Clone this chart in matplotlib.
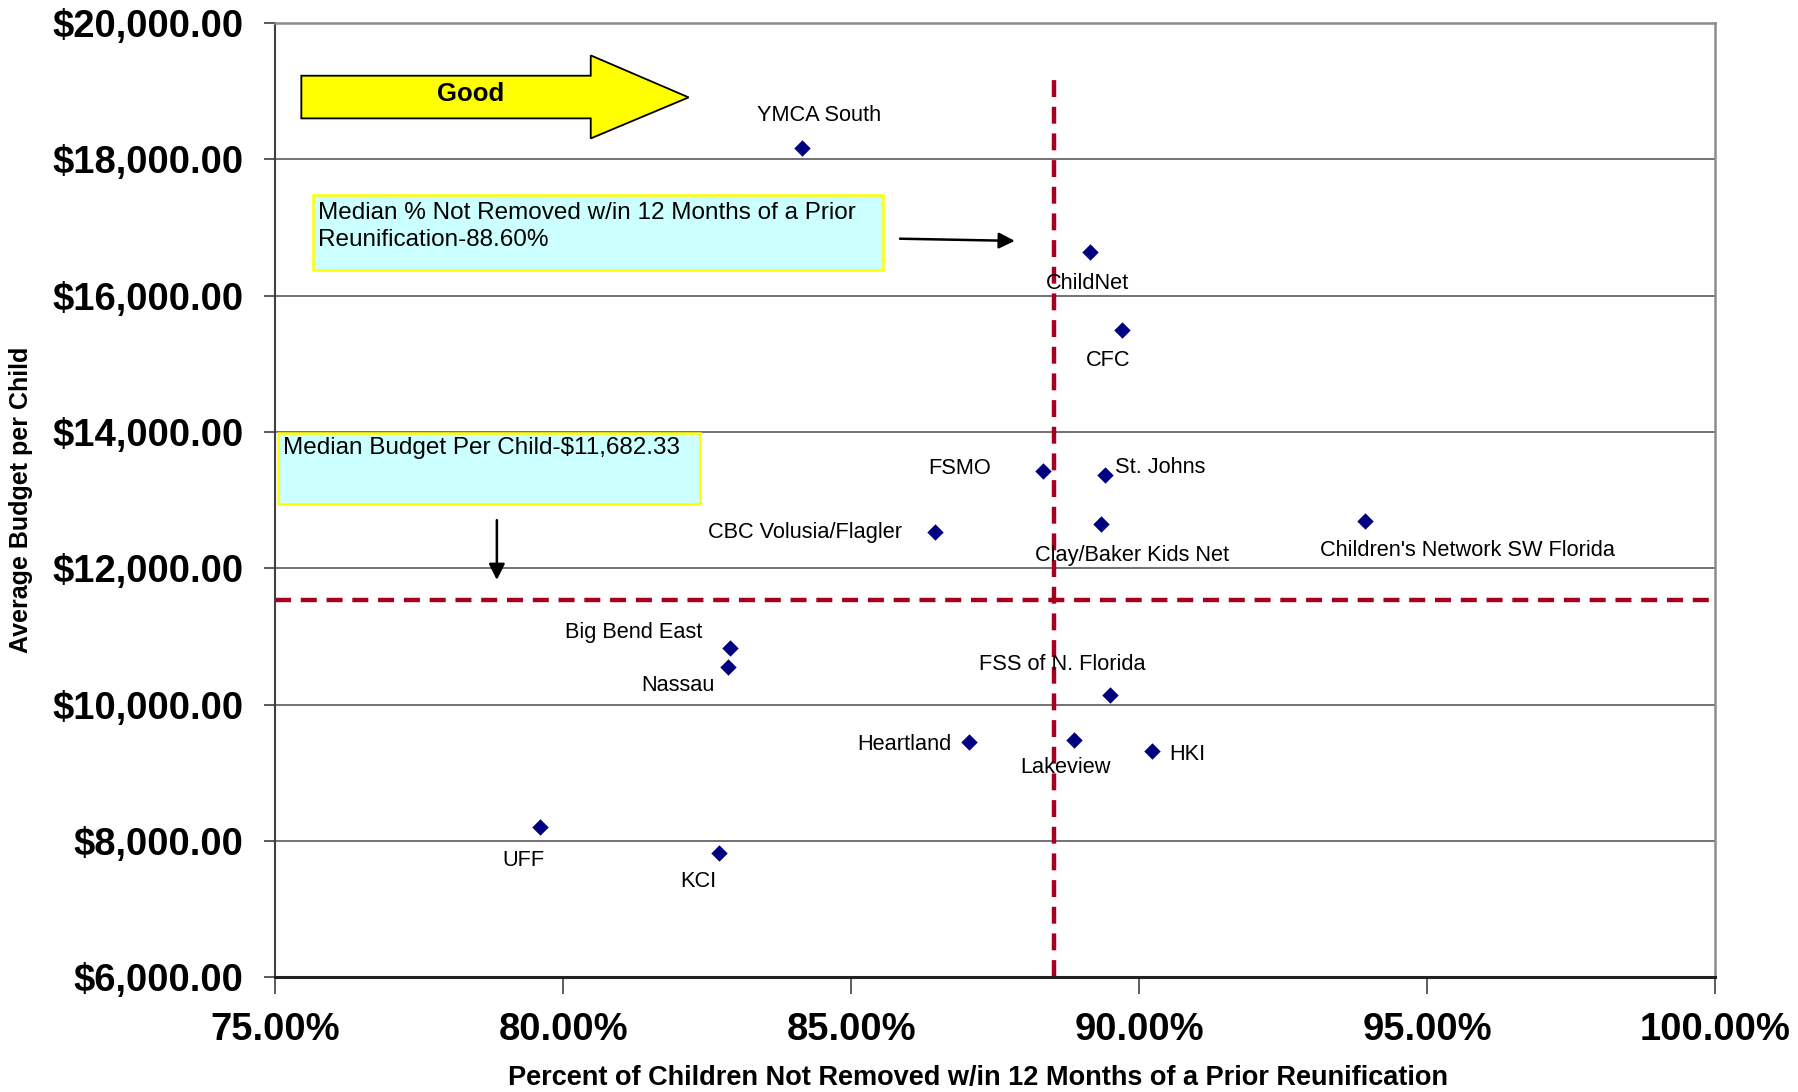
import matplotlib
matplotlib.use("Agg")
import matplotlib.pyplot as plt
from matplotlib.patches import Polygon, Rectangle
from matplotlib.ticker import FuncFormatter

plt.rcParams['font.family'] = ['Liberation Sans', 'DejaVu Sans']

# ---- data ----
agencies = ["YMCA South", "ChildNet", "CFC", "FSMO", "St. Johns", "CBC Volusia/Flagler",
            "Clay/Baker Kids Net", "Children's Network SW Florida", "Big Bend East", "Nassau",
            "FSS of N. Florida", "Heartland", "Lakeview", "HKI", "UFF", "KCI"]
pct_not_removed = [84.14, 89.14, 89.70, 88.33, 89.40, 86.45, 89.34, 93.92, 82.89, 82.85,
                   89.50, 87.05, 88.86, 90.22, 79.60, 82.71]
budget_per_child = [18167, 16636, 15492, 13423, 13373, 12532, 12650, 12700, 10833, 10547,
                    10143, 9454, 9488, 9319, 8209, 7822]
median_pct_line = 88.52
median_budget_line = 11540
median_pct_text = "Median % Not Removed w/in 12 Months of a Prior\nReunification-88.60%"
median_budget_text = "Median Budget Per Child-$11,682.33"
x_ticks = [75, 80, 85, 90, 95, 100]
y_ticks = [6000, 8000, 10000, 12000, 14000, 16000, 18000, 20000]

# label layout: (dx, dy in pixels, ha)
label_layout = {
    "YMCA South": (17, 32, 'center'),
    "ChildNet": (-2, -31, 'center'),
    "CFC": (-14, -30, 'center'),
    "FSMO": (-52, 3, 'right'),
    "St. Johns": (10, 7, 'left'),
    "CBC Volusia/Flagler": (-33, 0, 'right'),
    "Clay/Baker Kids Net": (31, -31, 'center'),
    "Children's Network SW Florida": (102, -30, 'center'),
    "Big Bend East": (-96, 15, 'center'),
    "Nassau": (-50, -18, 'center'),
    "FSS of N. Florida": (-48, 30, 'center'),
    "Heartland": (-18, -3, 'right'),
    "Lakeview": (-8, -28, 'center'),
    "HKI": (17, -3, 'left'),
    "UFF": (-17, -34, 'center'),
    "KCI": (-21, -28, 'center'),
}

fig = plt.figure(figsize=(17.99, 10.92), dpi=100)
ax = fig.add_axes([0.1531, 0.1049, 0.8003, 0.8741])

ax.set_xlim(75, 100)
ax.set_ylim(6000, 20000)
ax.set_xticks(x_ticks)
ax.set_yticks(y_ticks)
ax.xaxis.set_major_formatter(FuncFormatter(lambda v, p: f"{v:.2f}%"))
ax.yaxis.set_major_formatter(FuncFormatter(lambda v, p: f"${v:,.2f}"))

ax.grid(axis='y', color='#5a5a5a', linewidth=1.2)
ax.set_axisbelow(True)
for s in ['top', 'right']:
    ax.spines[s].set_color('#8c8c8c')
    ax.spines[s].set_linewidth(1.8)
ax.spines['left'].set_color('#404040')
ax.spines['left'].set_linewidth(1.5)
ax.spines['bottom'].set_color('#202020')
ax.spines['bottom'].set_linewidth(2.2)

ax.tick_params(axis='y', direction='out', length=8, width=1.2, color='#404040',
               labelsize=27.5, pad=15)
ax.tick_params(axis='x', direction='out', length=12, width=1.2, color='#404040',
               labelsize=27.5, pad=13)
for lbl in ax.get_xticklabels() + ax.get_yticklabels():
    lbl.set_fontweight('bold')

ax.set_xlabel("Percent of Children Not Removed w/in 12 Months of a Prior Reunification",
              fontsize=19.5, fontweight='bold', va='center')
ax.xaxis.set_label_coords(0.488, -0.1058)
ax.set_ylabel("Average Budget per Child", fontsize=18, fontweight='bold', va='center')
ax.yaxis.set_label_coords(-0.1769, 0.5006)

# median lines
ax.axvline(median_pct_line, ymin=0, ymax=0.946, color='#A50021', linewidth=3.2,
           dashes=(3.8, 2.2), zorder=2)
ax.axhline(median_budget_line, color='#A50021', linewidth=3.2, dashes=(3.6, 2.2), zorder=2)

# points
ax.scatter(pct_not_removed, budget_per_child, marker='D', s=70, color='#000080',
           zorder=4, linewidths=0)
for name, x, y in zip(agencies, pct_not_removed, budget_per_child):
    dx, dy, ha = label_layout[name]
    ax.annotate(name, (x, y), xytext=(dx, dy), textcoords='offset pixels',
                ha=ha, va='center', fontsize=15.7, color='black', zorder=5)

# "Good" block arrow
arrow_pts = [(0.018, 0.9447), (0.219, 0.9447), (0.219, 0.966), (0.287, 0.922),
             (0.219, 0.879), (0.219, 0.900), (0.018, 0.900)]
ax.add_patch(Polygon(arrow_pts, closed=True, transform=ax.transAxes,
                     facecolor='#FFFF00', edgecolor='black', linewidth=1.3, zorder=5))
ax.text(0.1355, 0.9255, "Good", transform=ax.transAxes, ha='center', va='center',
        fontsize=18.5, fontweight='bold', zorder=6)

# text boxes
ax.add_patch(Rectangle((0.0263, 0.7416), 0.396, 0.0781, transform=ax.transAxes,
                       facecolor='#CCFFFF', edgecolor='#FFFF00', linewidth=1.8, zorder=5))
ax.text(0.0295, 0.8125, median_pct_text, transform=ax.transAxes, ha='left', va='top',
        fontsize=17.5, linespacing=1.32, zorder=6)
ax.annotate("", xy=(0.5155, 0.7716), xytext=(0.4319, 0.774), xycoords='axes fraction',
            arrowprops=dict(arrowstyle='-|>', color='black', lw=1.8, mutation_scale=24),
            zorder=6)

ax.add_patch(Rectangle((0.0016, 0.4964), 0.2932, 0.0745, transform=ax.transAxes,
                       facecolor='#CCFFFF', edgecolor='#FFFF00', linewidth=1.8, zorder=5))
ax.text(0.0056, 0.5552, median_budget_text, transform=ax.transAxes, ha='left', va='center',
        fontsize=17.5, zorder=6)
ax.annotate("", xy=(0.1538, 0.4135), xytext=(0.1538, 0.482), xycoords='axes fraction',
            arrowprops=dict(arrowstyle='-|>', color='black', lw=1.8, mutation_scale=24),
            zorder=6)

fig.savefig("out.png", dpi=100, facecolor='white')
